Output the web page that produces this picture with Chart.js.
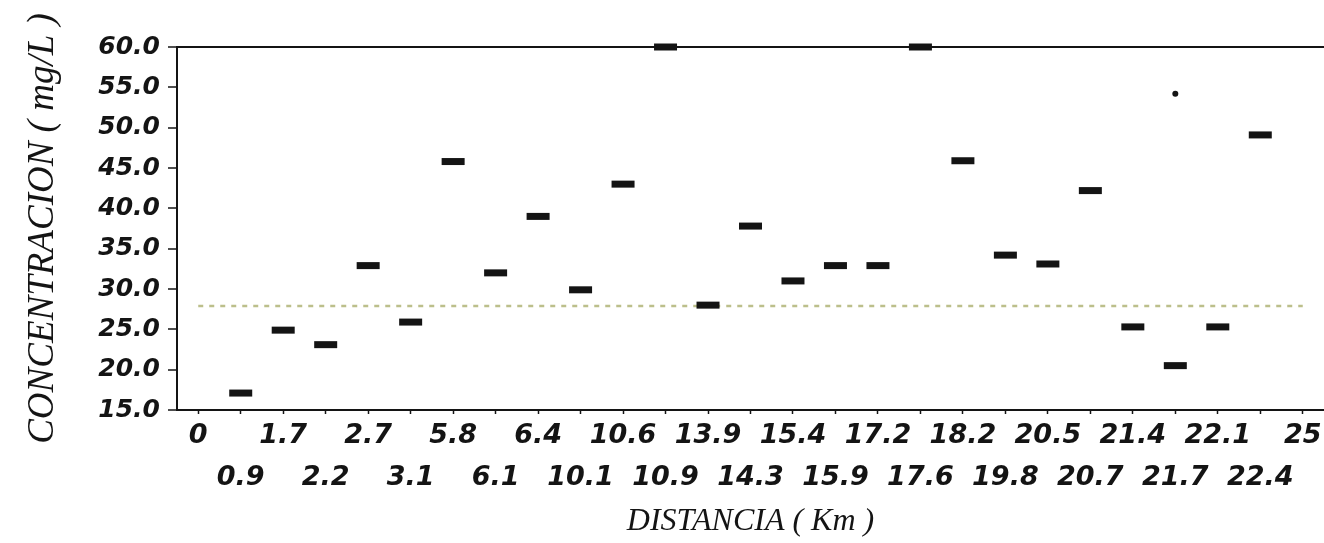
<!DOCTYPE html>
<html lang="es">
<head>
<meta charset="utf-8">
<title>Concentracion vs distancia</title>
<script src="https://cdn.jsdelivr.net/npm/chart.js@4.4.0/dist/chart.umd.min.js"></script>
<style>
  html, body { margin: 0; padding: 0; background: #fff; }
  #wrap { width: 1324px; height: 543px; }
</style>
</head>
<body>
<div id="wrap"><canvas id="chart" width="1324" height="543"></canvas></div>
<script>
// Data
const distancias = ['0', '0.9', '1.7', '2.2', '2.7', '3.1', '5.8', '6.1', '6.4', '10.1', '10.6', '10.9', '13.9',
  '14.3', '15.4', '15.9', '17.2', '17.6', '18.2', '19.8', '20.5', '20.7', '21.4', '21.7', '22.1', '22.4', '25'];
const concentracion = [null, 17.1, 24.9, 23.1, 32.9, 25.9, 45.8, 32.0, 39.0, 29.9, 43.0, 60.0, 28.0,
  37.8, 31.0, 32.9, 32.9, 60.0, 45.9, 34.2, 33.1, 42.2, 25.3, 20.5, 25.3, 49.1, null];
// lone dot above the 21.7 km column
const puntoSuelto = [{ x: '21.7', y: 54.2 }];
// faint dotted band across the sheet
const franja = [{ x: '0', y: 27.9 }, { x: '25', y: 27.9 }];
const yMin = 15;
const yMax = 60;
const yStep = 5;

const INK = '#141414';

/**
 * Split the labels over two rows, alternating
 */
function twoRowLabel(value, index) {
  const text = distancias[index];
  return index % 2 === 0 ? [text, ''] : ['', text];
}

const ctx = document.getElementById('chart').getContext('2d');
const chart = new Chart(ctx, {
  type: 'line',
  data: {
    labels: distancias,
    datasets: [
      {
        label: 'franja',
        data: franja,
        borderColor: 'rgba(165, 170, 100, 0.75)',
        borderWidth: 2.5,
        borderDash: [5, 6],
        pointRadius: 0,
        order: 3,
      },
      {
        label: 'Concentracion',
        data: concentracion,
        showLine: false,
        clip: false, // the 60.0 marks sit on the top line
        pointStyle: 'line',
        pointRadius: 11.5,
        pointBorderWidth: 7,
        pointBorderColor: INK,
        pointBackgroundColor: INK,
        order: 1,
      },
      {
        label: 'punto',
        data: puntoSuelto,
        showLine: false,
        pointStyle: 'circle',
        pointRadius: 3,
        pointBorderWidth: 0,
        pointBackgroundColor: INK,
        order: 2,
      },
    ],
  },
  options: {
    responsive: false,
    devicePixelRatio: 1,
    animation: false,
    events: [],
    layout: {
      autoPadding: false, // plot runs up to the right edge of the sheet
      padding: { top: 47, right: 0, bottom: 0, left: 0 },
    },
    plugins: {
      legend: { display: false },
      tooltip: { enabled: false },
    },
    scales: {
      x: {
        type: 'category',
        offset: true,
        border: { display: true, color: INK, width: 2 },
        grid: {
          drawOnChartArea: false,
          color: INK,
          tickColor: INK,
          tickLength: 4,
          tickWidth: 1.5,
        },
        ticks: {
          autoSkip: false,
          maxRotation: 0,
          minRotation: 0,
          padding: 1,
          color: INK,
          font: { family: 'DejaVu Sans', style: 'italic', weight: 'bold', size: 27, lineHeight: 1.55 },
          callback: twoRowLabel,
        },
        title: {
          display: true,
          text: 'DISTANCIA ( Km )',
          color: INK,
          font: { family: 'Liberation Serif', style: 'italic', size: 32, lineHeight: 1.2 },
          padding: { top: 0, bottom: 2 },
        },
        afterFit: (scale) => { scale.height = 133; },
      },
      y: {
        min: yMin,
        max: yMax,
        border: { display: true, color: INK, width: 2 },
        grid: {
          drawOnChartArea: true,
          lineWidth: 2,
          color: (c) => (c.tick && c.tick.value === yMax ? INK : 'rgba(0,0,0,0)'),
          tickColor: INK,
          tickLength: 9,
          tickWidth: 1.5,
        },
        ticks: {
          stepSize: yStep,
          padding: 8,
          color: INK,
          font: { family: 'DejaVu Sans', style: 'italic', weight: 'bold', size: 25 },
          callback: (value) => Number(value).toFixed(1),
        },
        title: {
          display: true,
          text: 'CONCENTRACION ( mg/L )',
          color: INK,
          font: { family: 'Liberation Serif', style: 'italic', size: 37, lineHeight: 1.2 },
          padding: { top: 21, bottom: 0 },
        },
        afterFit: (scale) => { scale.width = 177; },
      },
    },
  },
});
</script>
</body>
</html>
